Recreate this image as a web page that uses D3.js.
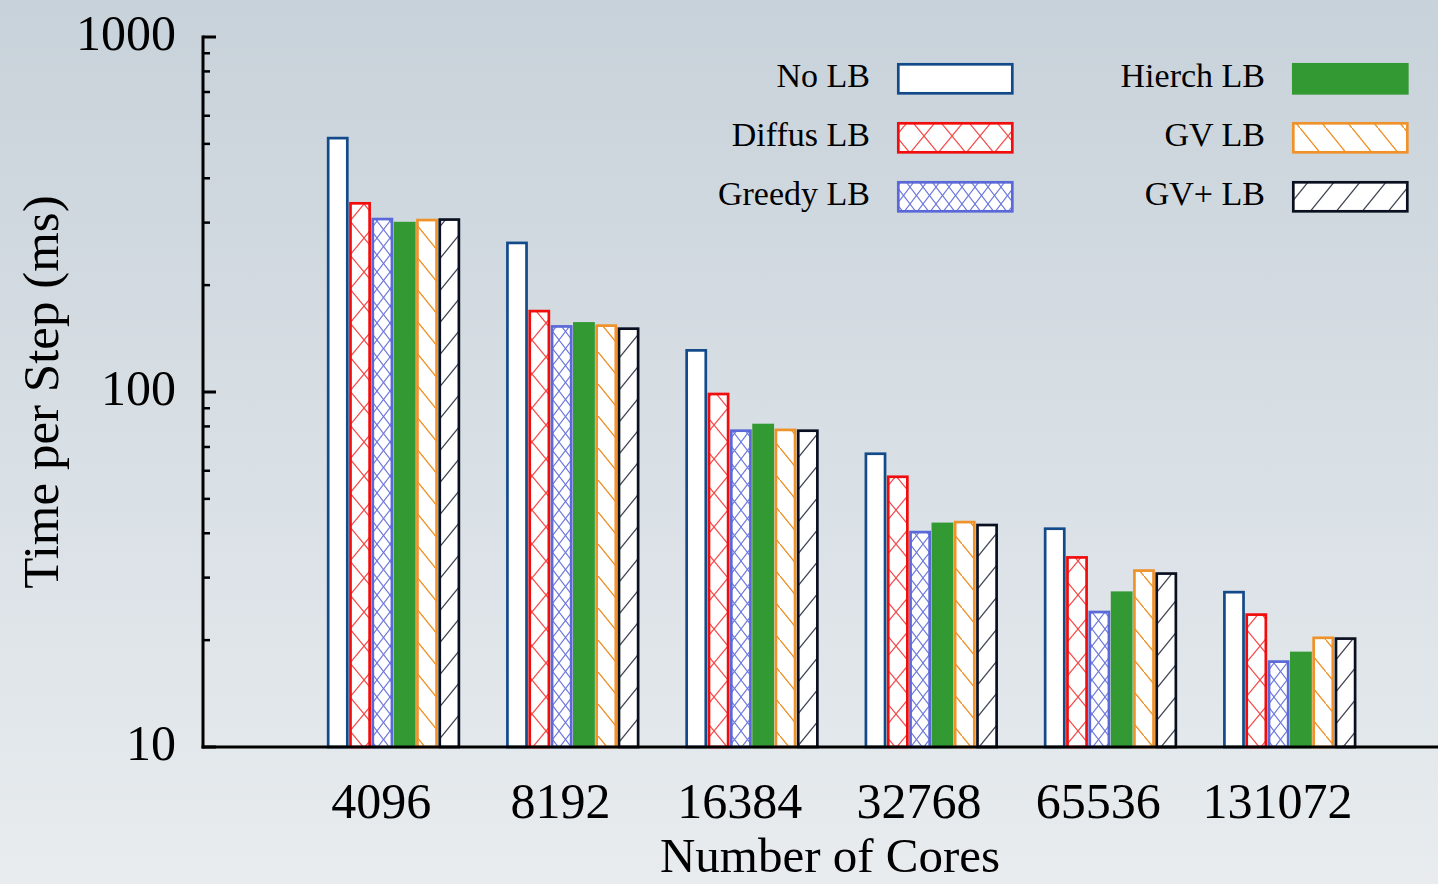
<!DOCTYPE html>
<html>
<head>
<meta charset="utf-8">
<script src="https://cdn.jsdelivr.net/npm/d3@7"></script>
<style>
html,body{margin:0;padding:0;overflow:hidden;}
svg{display:block;}
text{font-family:"Liberation Serif","Times New Roman",serif;fill:#000;}
</style>
</head>
<body>
<svg id="chart" width="1438" height="884"></svg>
<script>
const categories = ["4096","8192","16384","32768","65536","131072"];
const seriesNames = ["No LB","Diffus LB","Greedy LB","Hierch LB","GV LB","GV+ LB"];
const noLB     = [519, 263, 131, 67.0, 41.2, 27.3];
const diffusLB = [340, 169, 98.7, 57.7, 34.2, 23.6];
const greedyLB = [307, 153, 77.8, 40.3, 24.0, 17.4];
const hierchLB = [299, 156, 80.7, 42.5, 27.2, 18.4];
const gvLB     = [305, 153.8, 78.2, 43.0, 31.4, 20.3];
const gvPlusLB = [306, 150.8, 77.8, 42.2, 30.8, 20.2];
const yTickValues = [10, 100, 1000];
const xTitle = "Number of Cores";
const yTitle = "Time per Step (ms)";

const seriesValues = [noLB, diffusLB, greedyLB, hierchLB, gvLB, gvPlusLB];
const styles = [
  {stroke:"#134a8a", fill:"#ffffff"},
  {stroke:"#f20d0d", fill:"url(#pDiffus)"},
  {stroke:"#5a68d8", fill:"url(#pGreedy)"},
  {stroke:"#339933", fill:"#339933"},
  {stroke:"#f0922a", fill:"url(#pGV)"},
  {stroke:"#0b1020", fill:"url(#pGVp)"}
];

const svg = d3.select("#chart");
const defs = svg.append("defs");
const grad = defs.append("linearGradient").attr("id","bg").attr("x1",0).attr("y1",0).attr("x2",0).attr("y2",1);
grad.append("stop").attr("offset","0%").attr("stop-color","#c8d2da");
grad.append("stop").attr("offset","100%").attr("stop-color","#e8ecef");
svg.append("rect").attr("width",1438).attr("height",884).attr("fill","url(#bg)");

function pattern(id, w, h, color, lines, sw){
  const p = defs.append("pattern").attr("id",id).attr("patternUnits","userSpaceOnUse")
    .attr("width",w).attr("height",h);
  p.append("rect").attr("width",w).attr("height",h).attr("fill","#fff");
  lines.forEach(l => p.append("line").attr("x1",l[0]).attr("y1",l[1]).attr("x2",l[2]).attr("y2",l[3])
    .attr("stroke",color).attr("stroke-width",sw));
}
pattern("pDiffus", 28, 34, "#f54a4a", [[0,0,28,34],[28,0,0,34]], 1.2);
pattern("pGreedy", 13, 17, "#6a76dc", [[0,0,13,17],[13,0,0,17]], 1.1);
pattern("pGV", 26, 32, "#f0922a", [[0,0,26,32],[-13,-16,13,16],[13,16,39,48]], 1.1);
pattern("pGVp", 26, 32, "#3c4252", [[0,32,26,0],[-13,16,13,-16],[13,48,39,16]], 1.3);

const x = d3.scaleLinear().domain([0, 6.89]).range([203, 1438]);
const y = d3.scaleLog().domain([10, 1000]).range([747, 37]);
const barW = 0.1245;
const barOffset = -0.31;

// bars
const g = svg.append("g");
seriesValues.forEach((vals, k) => {
  g.selectAll(null).data(vals).enter().append("rect")
    .attr("x", (d,i) => x(i + 1 + barOffset + k*barW) + 1.5)
    .attr("width", x(barW) - x(0) - 3.2)
    .attr("y", d => y(d))
    .attr("height", d => y(10) - y(d))
    .attr("fill", styles[k].fill)
    .attr("stroke", styles[k].stroke)
    .attr("stroke-width", 2.7);
});

// y axis with minor ticks
const minor = [];
for (let dec of [10, 100]) for (let m = 2; m <= 9; m++) minor.push(dec*m);
const ax = svg.append("g");
ax.selectAll(null).data(minor).enter().append("line")
  .attr("x1",203).attr("x2",210).attr("y1",d=>y(d)).attr("y2",d=>y(d))
  .attr("stroke","#000").attr("stroke-width",2.5);
ax.selectAll(null).data(yTickValues).enter().append("line")
  .attr("x1",203).attr("x2",216).attr("y1",d=>y(d)).attr("y2",d=>y(d))
  .attr("stroke","#000").attr("stroke-width",3);
ax.append("line").attr("x1",203).attr("x2",203).attr("y1",y(1000)-1.5).attr("y2",y(10)+1.5)
  .attr("stroke","#000").attr("stroke-width",3);
ax.append("line").attr("x1",201.5).attr("x2",1438).attr("y1",y(10)).attr("y2",y(10))
  .attr("stroke","#000").attr("stroke-width",3);
ax.selectAll(null).data(yTickValues).enter().append("text")
  .attr("x",176).attr("y",d=>y(d)+13).attr("text-anchor","end")
  .attr("font-size",50).text(d=>d3.format("d")(d));

// x labels
svg.selectAll(null).data(categories).enter().append("text")
  .attr("x",(d,i)=>x(i+1)-1).attr("y",818).attr("text-anchor","middle")
  .attr("font-size",50).text(d=>d);

svg.append("text").attr("x",830).attr("y",872).attr("text-anchor","middle")
  .attr("font-size",49).text(xTitle);
svg.append("text").attr("transform","translate(58,392) rotate(-90)").attr("text-anchor","middle")
  .attr("font-size",51).text(yTitle);

// legend
const legCols = [{tx:870, bx:897}, {tx:1265, bx:1292}];
const legRows = [63, 122, 181];
seriesNames.forEach((name, k) => {
  const c = legCols[Math.floor(k/3)], r = legRows[k%3];
  svg.append("text").attr("x",c.tx).attr("y",r+24).attr("text-anchor","end")
    .attr("font-size",34).text(name);
  svg.append("rect").attr("x",c.bx+1.3).attr("y",r+1.3).attr("width",114).attr("height",29)
    .attr("fill",styles[k].fill).attr("stroke",styles[k].stroke).attr("stroke-width",2.7);
});
</script>
</body>
</html>
